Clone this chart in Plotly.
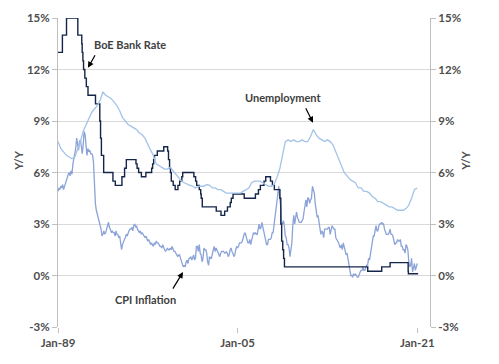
import plotly.graph_objects as go
import pandas as pd

# ---------------- DATA ----------------
# BoE Bank Rate change dates and levels (%)
boe_dates = ["1989-01-01", "1989-05-24", "1989-10-05", "1990-10-08", "1991-02-13", "1991-02-27",
             "1991-03-22", "1991-04-12", "1991-05-24", "1991-07-12", "1991-09-04", "1992-05-05",
             "1992-09-22", "1992-10-16", "1992-11-13", "1993-01-26", "1993-11-23", "1994-02-08",
             "1994-09-12", "1994-12-07", "1995-02-02", "1995-12-13", "1996-01-18", "1996-03-08",
             "1996-06-06", "1996-10-30", "1997-05-06", "1997-06-06", "1997-07-10", "1997-08-07",
             "1997-11-06", "1998-06-04", "1998-10-08", "1998-11-05", "1998-12-10", "1999-01-07",
             "1999-02-04", "1999-04-08", "1999-06-10", "1999-09-08", "1999-11-04", "2000-01-13",
             "2000-02-10", "2001-02-08", "2001-04-05", "2001-05-10", "2001-08-02", "2001-09-18",
             "2001-10-04", "2001-11-08", "2003-02-06", "2003-07-10", "2003-11-06", "2004-02-05",
             "2004-05-06", "2004-06-10", "2004-08-05", "2005-08-04", "2006-08-03", "2006-11-09",
             "2007-01-11", "2007-05-10", "2007-07-05", "2007-12-06", "2008-02-07", "2008-04-10",
             "2008-10-08", "2008-11-06", "2008-12-04", "2009-01-08", "2009-02-05", "2009-03-05",
             "2016-08-04", "2017-11-02", "2018-08-02", "2020-03-11", "2020-03-19", "2021-01-31"]
boe_rate = [13.0, 14.0, 15.0, 14.0, 13.5, 13.0,
            12.5, 12.0, 11.5, 11.0, 10.5, 10.0,
            9.0, 8.0, 7.0, 6.0, 5.5, 5.25,
            5.75, 6.25, 6.75, 6.5, 6.25, 6.0,
            5.75, 6.0, 6.25, 6.5, 6.75, 7.0,
            7.25, 7.5, 7.25, 6.75, 6.25, 6.0,
            5.5, 5.25, 5.0, 5.25, 5.5, 5.75,
            6.0, 5.75, 5.5, 5.25, 5.0, 4.75,
            4.5, 4.0, 3.75, 3.5, 3.75, 4.0,
            4.25, 4.5, 4.75, 4.5, 4.75, 5.0,
            5.25, 5.5, 5.75, 5.5, 5.25, 5.0,
            4.5, 3.0, 2.0, 1.5, 1.0, 0.5,
            0.25, 0.5, 0.75, 0.25, 0.1, 0.1]

# Unemployment rate (%), quarterly from Q1 1989
unemp_start = "1989-01-01"
unemployment = [
    7.8, 7.4, 7.2, 7.0,
    6.9, 6.8, 6.9, 7.3,
    7.8, 8.4, 8.8, 9.1,
    9.5, 9.7, 9.9, 10.2,
    10.7, 10.5, 10.4, 10.3,
    10.1, 9.9, 9.6, 9.2,
    9.0, 8.8, 8.7, 8.6,
    8.5, 8.3, 8.2, 8.0,
    7.6, 7.3, 7.0, 6.5,
    6.4, 6.3, 6.2, 6.2,
    6.3, 6.1, 5.9, 5.7,
    5.5, 5.4, 5.3, 5.25,
    5.2, 5.1, 5.2, 5.2,
    5.2, 5.3, 5.25, 5.1,
    5.1, 5.0, 5.0, 4.9,
    4.8, 4.8, 4.8, 4.8,
    4.8, 4.8, 4.9, 5.0,
    5.1, 5.4, 5.5, 5.5,
    5.5, 5.4, 5.3, 5.2,
    5.2, 5.3, 5.7, 6.2,
    7.0, 7.8, 7.9, 7.8,
    7.9, 7.8, 7.8, 7.9,
    7.8, 7.8, 8.1, 8.5,
    8.2, 8.0, 7.9, 7.8,
    7.9, 7.8, 7.6, 7.2,
    6.8, 6.4, 6.0, 5.8,
    5.6, 5.5, 5.4, 5.1,
    5.1, 4.9, 4.9, 4.8,
    4.6, 4.5, 4.3, 4.3,
    4.2, 4.1, 4.0, 4.0,
    3.9, 3.8, 3.8, 3.8,
    3.9, 4.1, 4.5, 5.0,
    5.1]

# CPI inflation (% y/y), monthly from Jan 1989
cpi_start = "1989-01-01"
cpi = [
    4.9, 5.1, 5.0, 5.2, 5.1, 5.3, 5.0, 5.2, 5.4, 5.5, 5.7, 5.9,   # 1989
    6.0, 5.8, 6.1, 5.9, 6.5, 6.8, 7.2, 7.4, 8.0, 7.6, 7.3, 7.8,   # 1990
    7.9, 7.5, 7.1, 7.6, 8.4, 8.2, 7.5, 7.0, 7.4, 7.2, 7.3, 7.1,   # 1991
    7.1, 7.0, 6.6, 4.8, 4.2, 3.8, 3.6, 3.4, 3.1, 2.9, 2.7, 2.3,   # 1992
    2.4, 2.6, 2.4, 2.5, 2.7, 2.9, 3.1, 2.8, 2.7, 2.5, 2.6, 2.5,   # 1993
    2.5, 2.3, 2.6, 2.4, 2.4, 2.2, 2.3, 1.9, 1.5, 1.8, 2.0, 2.1,   # 1994
    2.2, 2.4, 2.3, 2.5, 2.6, 2.7, 2.7, 2.8, 2.6, 2.9, 3.0, 2.8,   # 1995
    2.9, 2.7, 2.6, 2.5, 2.6, 2.4, 2.5, 2.4, 2.3, 2.2, 2.3, 2.1,   # 1996
    2.0, 2.1, 1.9, 1.8, 1.9, 1.8, 1.7, 1.9, 1.8, 2.0, 1.9, 1.9,   # 1997
    1.8, 1.7, 1.7, 1.6, 1.8, 1.6, 1.5, 1.4, 1.5, 1.6, 1.5, 1.5,   # 1998
    1.6, 1.5, 1.7, 1.5, 1.4, 1.4, 1.3, 1.2, 1.1, 1.2, 1.2, 1.0,   # 1999
    0.8, 0.6, 0.5, 0.6, 0.5, 0.8, 0.9, 0.7, 1.0, 1.0, 1.1, 0.9,   # 2000
    1.1, 1.2, 0.9, 1.0, 1.7, 1.7, 1.4, 1.8, 1.3, 1.2, 0.8, 1.0,   # 2001
    1.6, 1.5, 1.5, 1.3, 0.8, 0.6, 1.1, 1.0, 1.0, 1.4, 1.5, 1.7,   # 2002
    1.4, 1.6, 1.5, 1.4, 1.3, 1.1, 1.3, 1.4, 1.4, 1.4, 1.3, 1.3,   # 2003
    1.4, 1.3, 1.1, 1.2, 1.5, 1.6, 1.4, 1.3, 1.1, 1.2, 1.5, 1.7,   # 2004
    1.6, 1.7, 1.9, 1.9, 1.9, 2.0, 2.3, 2.4, 2.5, 2.3, 2.1, 1.9,   # 2005
    1.9, 2.1, 1.8, 2.0, 2.2, 2.5, 2.4, 2.5, 2.4, 2.4, 2.7, 3.0,   # 2006
    2.7, 2.8, 3.1, 2.8, 2.5, 2.4, 1.9, 1.8, 1.8, 2.1, 2.1, 2.1,   # 2007
    2.2, 2.5, 2.5, 3.0, 3.3, 3.8, 4.4, 4.7, 5.2, 4.5, 4.1, 3.1,   # 2008
    3.0, 3.2, 2.9, 2.3, 2.2, 1.8, 1.8, 1.6, 1.1, 1.5, 1.9, 2.9,   # 2009
    3.5, 3.0, 3.4, 3.7, 3.4, 3.2, 3.1, 3.1, 3.1, 3.2, 3.3, 3.7,   # 2010
    4.0, 4.4, 4.0, 4.5, 4.5, 4.2, 4.4, 4.5, 5.2, 5.0, 4.8, 4.2,   # 2011
    3.6, 3.4, 3.5, 3.0, 2.8, 2.4, 2.6, 2.5, 2.2, 2.7, 2.7, 2.7,   # 2012
    2.7, 2.8, 2.8, 2.4, 2.7, 2.9, 2.8, 2.7, 2.7, 2.2, 2.1, 2.0,   # 2013
    1.9, 1.7, 1.6, 1.8, 1.5, 1.9, 1.6, 1.5, 1.2, 1.3, 1.0, 0.5,   # 2014
    0.3, 0.0, 0.0, -0.1, 0.1, 0.0, 0.1, 0.0, -0.1, -0.1, 0.1, 0.2,  # 2015
    0.3, 0.3, 0.5, 0.3, 0.3, 0.5, 0.6, 0.6, 1.0, 0.9, 1.2, 1.6,   # 2016
    1.8, 2.3, 2.3, 2.7, 2.9, 2.6, 2.6, 2.9, 3.0, 3.0, 3.1, 3.0,   # 2017
    3.0, 2.7, 2.5, 2.4, 2.4, 2.4, 2.5, 2.7, 2.4, 2.4, 2.3, 2.1,   # 2018
    1.8, 1.9, 1.9, 2.1, 2.0, 2.0, 2.1, 1.7, 1.7, 1.5, 1.5, 1.3,   # 2019
    1.8, 1.7, 1.5, 0.8, 0.5, 0.6, 1.0, 0.2, 0.5, 0.7, 0.3, 0.6,   # 2020
    0.7]                                                          # 2021

y_ticks = [-3, 0, 3, 6, 9, 12, 15]
y_tick_labels = ["-3%", "0%", "3%", "6%", "9%", "12%", "15%"]
x_ticks = ["1989-01-01", "2005-01-01", "2021-01-01"]
x_tick_labels = ["Jan-89", "Jan-05", "Jan-21"]

# ---------------- FIGURE ----------------
cpi_dates = pd.date_range(cpi_start, periods=len(cpi), freq="MS")
unemp_dates = pd.date_range(unemp_start, periods=len(unemployment), freq="QS")

C_BOE = "#14254a"
C_UNEMP = "#a3c3e8"
C_CPI = "#8ba3d8"
TXT = "#4d4d4d"
GRID = "#d9d9d9"
FONT = dict(family="Lato", size=11.5, color=TXT, weight=700)

fig = go.Figure()
fig.add_trace(go.Scatter(x=cpi_dates, y=cpi, mode="lines", name="CPI Inflation",
                         line=dict(color=C_CPI, width=1.3)))
fig.add_trace(go.Scatter(x=unemp_dates, y=unemployment, mode="lines", name="Unemployment",
                         line=dict(color=C_UNEMP, width=1.3), yaxis="y2"))
fig.add_trace(go.Scatter(x=pd.to_datetime(boe_dates), y=boe_rate, mode="lines", name="BoE Bank Rate",
                         line=dict(color=C_BOE, width=1.4, shape="hv")))

yax = dict(range=[-3, 15], tickvals=y_ticks, ticktext=y_tick_labels,
           gridcolor=GRID, gridwidth=1, zeroline=False, showline=True, linecolor="#bfbfbf",
           linewidth=1, ticks="outside", ticklen=5, tickcolor="#bfbfbf", tickfont=FONT,
           fixedrange=True)

fig.update_layout(
    width=499, height=364,
    margin=dict(l=58, r=69, t=11, b=37),
    paper_bgcolor="white", plot_bgcolor="white",
    showlegend=False,
    xaxis=dict(range=["1989-01-01", "2022-02-20"], tickvals=x_ticks, ticktext=x_tick_labels,
               showgrid=False, zeroline=False, showline=False, ticks="outside", ticklen=5,
               tickcolor="#bfbfbf", tickfont=FONT, fixedrange=True),
    yaxis=dict(**yax, side="left", showgrid=True),
    yaxis2=dict(**yax, side="right", overlaying="y", showgrid=False),
)

# Axis titles
for xp in (-0.105, 1.097):
    fig.add_annotation(xref="paper", yref="paper", x=xp, y=0.538, text="Y/Y", showarrow=False,
                       xanchor="center", yanchor="middle", textangle=-90,
                       font=dict(family="Lato", size=11, color=TXT, weight=700))

# Series labels
labels = [("BoE Bank Rate", 0.194, 0.915), ("Unemployment", 0.605, 0.744), ("CPI Inflation", 0.234, 0.089)]
for txt, xp, yp in labels:
    fig.add_annotation(xref="paper", yref="paper", x=xp, y=yp, text=txt, showarrow=False,
                       xanchor="center", yanchor="middle",
                       font=dict(family="Lato", size=11, color="#404040", weight=700))

# Arrows (head at data point, tail offset in pixels)
arrows = [("1991-09-01", 12.1, 8, -14), ("2011-09-20", 8.9, -8, -16), ("2000-02-20", 0.2, -11, 18)]
for xd, yd, axp, ayp in arrows:
    fig.add_annotation(x=xd, y=yd, xref="x", yref="y", text="", showarrow=True,
                       ax=axp, ay=ayp, arrowhead=2, arrowsize=1, arrowwidth=1.2, arrowcolor="black")

fig.write_html("out.html", config={"displayModeBar": False})

# remove default page margin so the 499x364 figure fills the window exactly
with open("out.html", "r", encoding="utf-8") as f:
    html = f.read()
html = html.replace("<head>", "<head><style>html,body{margin:0;padding:0;overflow:hidden;}</style>", 1)
with open("out.html", "w", encoding="utf-8") as f:
    f.write(html)
